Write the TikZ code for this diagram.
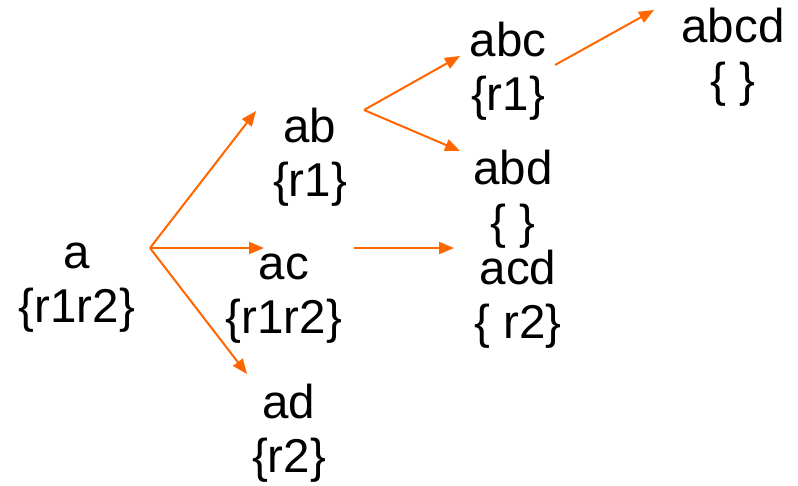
\documentclass[tikz,border=0pt]{standalone}
\usepackage{fontspec}
\setmainfont{Liberation Sans}
\usetikzlibrary{arrows.meta}
\definecolor{arr}{RGB}{255,102,0}
\tikzset{
  lbl/.style={font=\fontsize{47.5}{54}\selectfont, align=center, anchor=base, inner sep=0pt},
  conn/.style={draw=arr, line width=2pt, -{Triangle[length=15pt,width=12pt]}}
}
\begin{document}
\begin{tikzpicture}[x=1pt,y=-1pt]
\useasboundingbox (0,0) rectangle (798,485);
\node[lbl] (a) at (77,322) {a\\\{r1r2\}};
\node[lbl] (ab) at (310,196) {ab\\\{r1\}};
\node[lbl] (ac) at (284,333) {ac\\\{r1r2\}};
\node[lbl] (ad) at (289,472) {ad\\\{r2\}};
\node[lbl] (abc) at (508,110) {abc\\\{r1\}};
\node[lbl] (abd) at (513,238) {abd\\\{ \}};
\node[lbl] (acd) at (518,338) {acd\\\{ r2\}};
\node[lbl] (abcd) at (733,96) {abcd\\\{ \}};
\coordinate (a-o) at (150,248);
\coordinate (ab-i) at (256,111);
\coordinate (ac-i) at (264,248);
\coordinate (ad-i) at (247,374);
\coordinate (ab-o) at (364,110);
\coordinate (abc-i) at (460,56);
\coordinate (abd-i) at (460,151);
\coordinate (abc-o) at (555,65);
\coordinate (abcd-i) at (654,10);
\coordinate (ac-o) at (354,248);
\coordinate (acd-i) at (454,248);
\draw[conn] (a-o) -- (ab-i);
\draw[conn] (a-o) -- (ac-i);
\draw[conn] (a-o) -- (ad-i);
\draw[conn] (ab-o) -- (abc-i);
\draw[conn] (ab-o) -- (abd-i);
\draw[conn] (abc-o) -- (abcd-i);
\draw[conn] (ac-o) -- (acd-i);
\end{tikzpicture}
\end{document}
